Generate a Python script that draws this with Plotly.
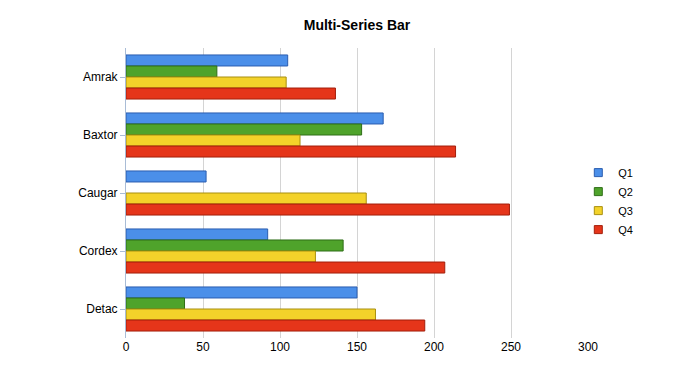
import plotly.graph_objects as go

categories = ["Amrak", "Baxtor", "Caugar", "Cordex", "Detac"]
series_names = ["Q1", "Q2", "Q3", "Q4"]
q1 = [105, 167, 52, 92, 150]
q2 = [59, 153, None, 141, 38]
q3 = [104, 113, 156, 123, 162]
q4 = [136, 214, 249, 207, 194]
x_ticks = [0, 50, 100, 150, 200, 250, 300]

fills = ["#4b8fe9", "#4fa32b", "#f3d22a", "#e5351a"]
lines = ["#2a5db0", "#2f6e17", "#a88f10", "#a31e0b"]

fig = go.Figure()
for name, vals, fc, lc in zip(series_names, [q1, q2, q3, q4], fills, lines):
    fig.add_trace(go.Bar(
        name=name, y=categories, x=vals, orientation="h",
        marker=dict(color=fc, line=dict(color=lc, width=1)),
        showlegend=False,
    ))
for name, fc, lc in zip(series_names, fills, lines):
    fig.add_trace(go.Scatter(
        name=name, x=[None], y=[None], mode="markers",
        marker=dict(symbol="square", size=8, color=fc, line=dict(color=lc, width=1)),
        showlegend=True,
    ))

fig.update_layout(
    width=700, height=375,
    barmode="group", bargap=0.24, bargroupgap=0,
    paper_bgcolor="white", plot_bgcolor="white",
    margin=dict(l=118, r=120, t=40, b=45),
    font=dict(family="Liberation Sans, Arial, sans-serif", size=12, color="#000"),
    title=dict(text="<b>Multi-Series Bar</b>", x=0.4986, xanchor="center", y=0.955, yanchor="middle",
               font=dict(size=14, color="#000")),
    legend=dict(x=0.979, y=0.472, xanchor="left", yanchor="middle", traceorder="normal",
                font=dict(size=11), itemwidth=30, tracegroupgap=0),
    showlegend=True,
)
fig.update_xaxes(range=[0, 300], tickvals=x_ticks, showgrid=True, gridcolor="#d4d4d4",
                 gridwidth=1, zeroline=False, showline=False, ticks="", tickfont=dict(size=12))
fig.update_yaxes(autorange="reversed", showline=True, linecolor="#a9bcd6", linewidth=1,
                 ticks="outside", ticklen=5, tickcolor="#a9bcd6", showgrid=False,
                 tickfont=dict(size=12))

fig.write_html("out.html")
